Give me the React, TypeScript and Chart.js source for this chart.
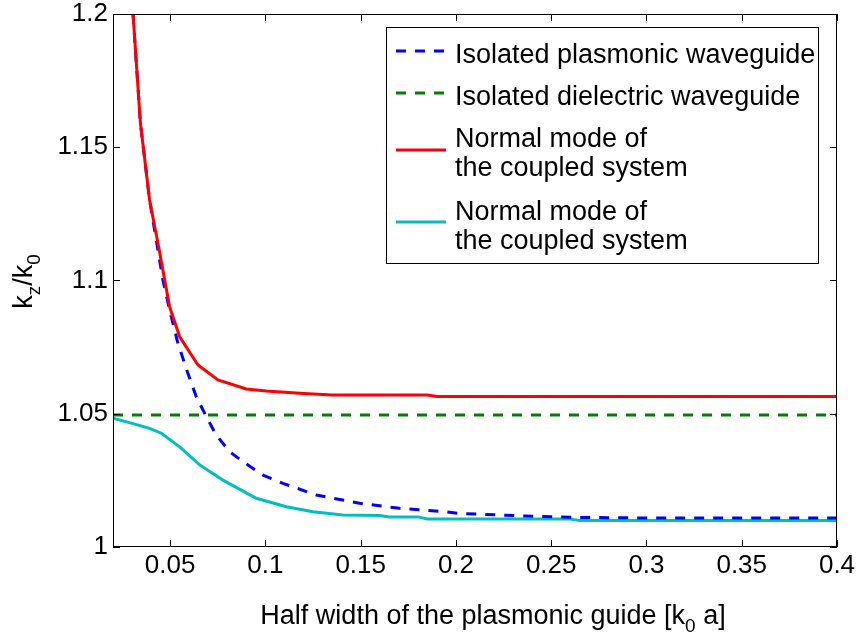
import React, { useEffect, useRef } from "react";
import { Chart, registerables } from "chart.js";

Chart.register(...registerables);

const FONT = "'Liberation Sans', Arial, Helvetica, sans-serif";

// Tick values
const xTickValues = [0.05, 0.1, 0.15, 0.2, 0.25, 0.3, 0.35, 0.4];
const yTickValues = [1, 1.05, 1.1, 1.15, 1.2];

// Isolated plasmonic waveguide (blue dashed)
const plasmonicX = [0.0305, 0.0344, 0.0392, 0.0462, 0.0497, 0.0541, 0.0593, 0.0637, 0.069, 0.0742, 0.0812, 0.0882, 0.0987, 0.1092, 0.1267, 0.1494, 0.1704, 0.1949, 0.2019, 0.2369, 0.2631, 0.2981, 0.4];
const plasmonicY = [1.2, 1.159, 1.1302, 1.1002, 1.0889, 1.0764, 1.0652, 1.0564, 1.0489, 1.042, 1.0358, 1.032, 1.027, 1.0239, 1.0195, 1.0164, 1.0145, 1.0132, 1.0126, 1.0116, 1.0111, 1.0109, 1.0109];

// Isolated dielectric waveguide (green dashed)
const dielectricX = [0.02, 0.4];
const dielectricY = [1.0495, 1.0495];

// Normal mode, upper branch (red)
const upperModeX = [0.0305, 0.0344, 0.0392, 0.0436, 0.0497, 0.055, 0.0646, 0.0751, 0.09, 0.1005, 0.118, 0.135, 0.185, 0.19, 0.4];
const upperModeY = [1.2, 1.159, 1.1302, 1.114, 1.0902, 1.0789, 1.0683, 1.0627, 1.0593, 1.0585, 1.0577, 1.057, 1.057, 1.0565, 1.0565];

// Normal mode, lower branch (cyan)
const lowerModeX = [0.02, 0.0305, 0.0392, 0.0454, 0.055, 0.0655, 0.0777, 0.0952, 0.111, 0.1249, 0.1407, 0.16, 0.165, 0.18, 0.185, 0.26, 0.265, 0.4];
const lowerModeY = [1.0483, 1.0463, 1.0445, 1.0427, 1.0376, 1.0308, 1.0251, 1.0183, 1.0151, 1.0132, 1.012, 1.0118, 1.0113, 1.0113, 1.0105, 1.0105, 1.0099, 1.0099];

const seriesLabels: string[][] = [
  ["Isolated plasmonic waveguide"],
  ["Isolated dielectric waveguide"],
  ["Normal mode of", "the coupled system"],
  ["Normal mode of", "the coupled system"],
];
const seriesColors = ["#0000ff", "#008000", "#ff0000", "#00bfbf"];
const seriesDashed = [true, true, false, false];

const xTitleParts = [
  { t: "Half width of the plasmonic guide [k", sub: false },
  { t: "0", sub: true },
  { t: " a]", sub: false },
];
const yTitleParts = [
  { t: "k", sub: false },
  { t: "z", sub: true },
  { t: "/k", sub: false },
  { t: "0", sub: true },
];

function drawParts(ctx: CanvasRenderingContext2D, parts: { t: string; sub: boolean }[], cx: number, baseY: number, size: number, subSize: number, subOff: number) {
  let total = 0;
  const widths = parts.map((p) => {
    ctx.font = `${p.sub ? subSize : size}px ${FONT}`;
    const w = ctx.measureText(p.t).width;
    total += w;
    return w;
  });
  let x = cx - total / 2;
  ctx.textAlign = "left";
  ctx.textBaseline = "alphabetic";
  parts.forEach((p, i) => {
    ctx.font = `${p.sub ? subSize : size}px ${FONT}`;
    ctx.fillText(p.t, x, baseY + (p.sub ? subOff : 0));
    x += widths[i];
  });
}

const decorPlugin = {
  id: "decor",
  afterDraw(chart: any) {
    const ctx: CanvasRenderingContext2D = chart.ctx;
    const { left, top, right, bottom } = chart.chartArea;
    const xs = chart.scales.x;
    const ys = chart.scales.y;
    ctx.save();
    // frame
    ctx.strokeStyle = "#000";
    ctx.lineWidth = 1;
    ctx.strokeRect(left + 0.5, top + 0.5, right - left - 1, bottom - top - 1);
    // ticks
    const tl = 7;
    ctx.beginPath();
    xTickValues.forEach((v) => {
      const px = Math.round(xs.getPixelForValue(v)) + 0.5;
      ctx.moveTo(px, bottom);
      ctx.lineTo(px, bottom - tl);
      ctx.moveTo(px, top);
      ctx.lineTo(px, top + tl);
    });
    yTickValues.forEach((v) => {
      const py = Math.round(ys.getPixelForValue(v)) + 0.5;
      ctx.moveTo(left, py);
      ctx.lineTo(left + tl, py);
      ctx.moveTo(right, py);
      ctx.lineTo(right - tl, py);
    });
    ctx.stroke();

    // legend
    const lx0 = right - 451;
    const ly0 = top + 13;
    const lw = 432;
    const lh = 236;
    ctx.fillStyle = "#fff";
    ctx.fillRect(lx0, ly0, lw, lh);
    ctx.strokeStyle = "#000";
    ctx.lineWidth = 1;
    ctx.strokeRect(lx0 + 0.5, ly0 + 0.5, lw, lh);
    const sampleY = [24, 66, 123, 195];
    const baseY = [[35.7], [78], [119.7, 148.7], [193, 221.5]];
    seriesLabels.forEach((lines, i) => {
      ctx.strokeStyle = seriesColors[i];
      ctx.lineWidth = 3;
      ctx.setLineDash(seriesDashed[i] ? [10, 9] : []);
      ctx.beginPath();
      ctx.moveTo(lx0 + 10, ly0 + sampleY[i]);
      ctx.lineTo(lx0 + 60, ly0 + sampleY[i]);
      ctx.stroke();
      ctx.setLineDash([]);
      ctx.fillStyle = "#000";
      ctx.font = `27px ${FONT}`;
      ctx.textAlign = "left";
      ctx.textBaseline = "alphabetic";
      lines.forEach((s, j) => {
        ctx.fillText(s, lx0 + 69, ly0 + baseY[i][j]);
      });
    });

    // titles
    ctx.fillStyle = "#000";
    drawParts(ctx, xTitleParts, (left + right) / 2 + 18, 624, 27, 19, 8);
    ctx.save();
    ctx.translate(32, (top + bottom) / 2 + 1);
    ctx.rotate(-Math.PI / 2);
    drawParts(ctx, yTitleParts, 0, 0, 27, 19, 8);
    ctx.restore();
    ctx.restore();
  },
};

function toPoints(xs: number[], ys: number[]) {
  return xs.map((x, i) => ({ x, y: ys[i] }));
}

function zeroPad(s: any) {
  s.paddingTop = 0;
  s.paddingBottom = 0;
  s.paddingLeft = 0;
  s.paddingRight = 0;
}

export default function App() {
  const ref = useRef<HTMLCanvasElement>(null);
  useEffect(() => {
    document.body.style.margin = "0";
    const canvas = ref.current!;
    const series = [
      { xs: plasmonicX, ys: plasmonicY, order: 2 },
      { xs: dielectricX, ys: dielectricY, order: 3 },
      { xs: upperModeX, ys: upperModeY, order: 1 },
      { xs: lowerModeX, ys: lowerModeY, order: 4 },
    ];
    const chart = new Chart(canvas, {
      type: "scatter",
      data: {
        datasets: series.map((s, i) => ({
          label: seriesLabels[i].join(" "),
          data: toPoints(s.xs, s.ys),
          showLine: true,
          borderColor: seriesColors[i],
          backgroundColor: seriesColors[i],
          borderWidth: 3,
          borderDash: seriesDashed[i] ? [10, 9] : [],
          pointRadius: 0,
          pointHoverRadius: 0,
          tension: 0,
          fill: false,
          order: s.order,
        })),
      },
      options: {
        responsive: false,
        animation: false,
        devicePixelRatio: 1,
        layout: { padding: { top: 14, right: 21, left: 0, bottom: 0 } },
        plugins: { legend: { display: false }, tooltip: { enabled: false } },
        events: [],
        scales: {
          x: {
            type: "linear",
            min: 0.02,
            max: 0.4,
            afterBuildTicks: (s: any) => {
              s.ticks = xTickValues.map((v) => ({ value: v }));
            },
            afterFit: (s: any) => {
              s.height = 94;
              zeroPad(s);
            },
            grid: { display: false, drawTicks: false },
            border: { display: false },
            ticks: {
              autoSkip: false,
              maxRotation: 0,
              padding: 6,
              color: "#000",
              font: { family: FONT, size: 26, lineHeight: 1 },
              callback: (v: any) => String(v),
            },
          },
          y: {
            type: "linear",
            min: 1,
            max: 1.2,
            afterBuildTicks: (s: any) => {
              s.ticks = yTickValues.map((v) => ({ value: v }));
            },
            afterFit: (s: any) => {
              s.width = 113;
              zeroPad(s);
            },
            grid: { display: false, drawTicks: false },
            border: { display: false },
            ticks: {
              autoSkip: false,
              padding: 5,
              color: "#000",
              font: { family: FONT, size: 26, lineHeight: 1 },
              callback: (v: any) => String(v),
            },
          },
        },
      },
      plugins: [decorPlugin],
    } as any);
    return () => chart.destroy();
  }, []);
  return (
    <div style={{ position: "fixed", left: 0, top: 0, width: 858, height: 641, background: "#fff" }}>
      <canvas ref={ref} width={858} height={641} />
    </div>
  );
}
